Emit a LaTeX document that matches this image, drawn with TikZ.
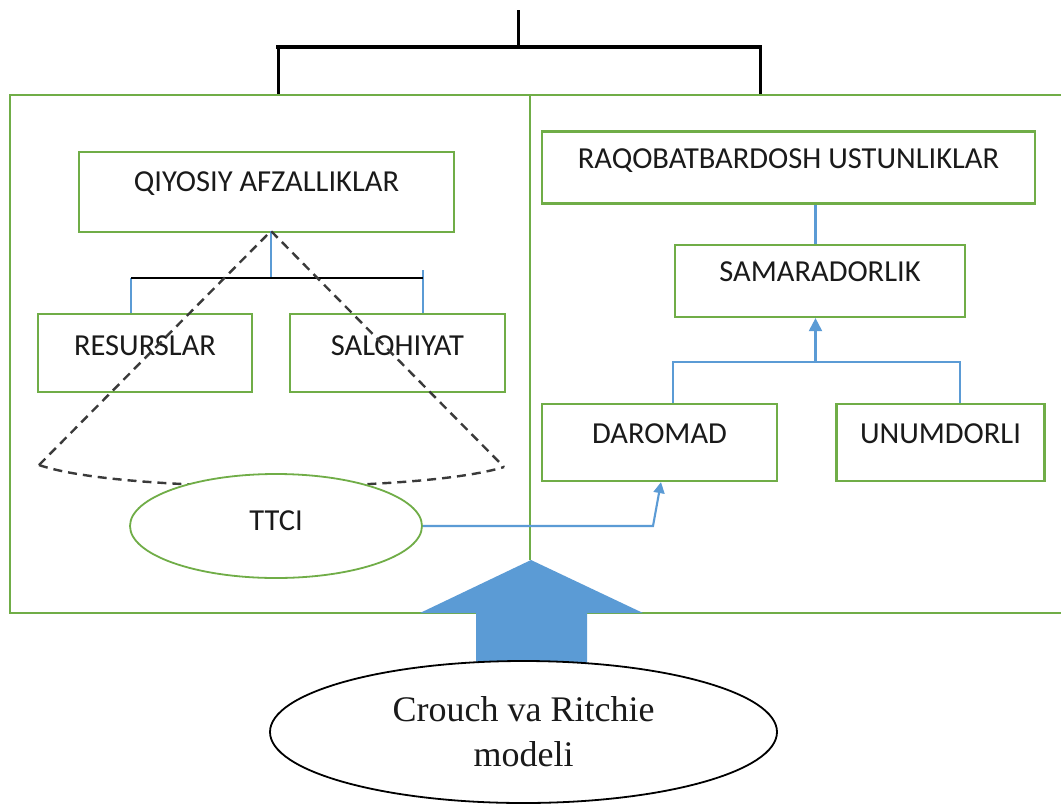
\documentclass[tikz,border=0pt]{standalone}
\usepackage{fontspec}
\setmainfont{Carlito}
\newfontfamily\serifont{Liberation Serif}
\usetikzlibrary{arrows.meta,shapes.geometric}
\definecolor{ogreen}{HTML}{70AD47}
\definecolor{oblue}{HTML}{5B9BD5}
\definecolor{dashgray}{HTML}{3A3A3A}
\definecolor{txtcol}{HTML}{1A1A1A}
\begin{document}
\begin{tikzpicture}[x=1pt,y=-1pt,
  box/.style={draw=ogreen,line width=2.2pt,rectangle,inner sep=0pt},
  lbl/.style={anchor=base,font=\fontsize{30.5}{36}\selectfont,text=txtcol,inner sep=0pt},
  bl/.style={draw=oblue,line width=2.1pt},
  blarrow/.style={bl,-{Triangle[width=13pt,length=13pt]}},
  blk/.style={draw=black,line width=2.4pt},
  conedash/.style={draw=dashgray,line width=2.4pt,dash pattern=on 9pt off 6pt}]
\clip (0,0) rectangle (1061,804);
\fill[white] (0,0) rectangle (1061,804);

% top connector
\coordinate (t0) at (518,10);
\coordinate (t1) at (518,47);
\coordinate (tl) at (278,47);
\coordinate (tr) at (760,47);
\draw[black,line width=3pt] (t0) -- (t1);
\draw[black,line width=3.5pt,line cap=rect] (tl) -- (tr);
\draw[black,line width=3pt] (tl) -- (278,95);
\draw[black,line width=3pt] (tr) -- (760,95);

% big frame
\draw[ogreen,line width=2.2pt] (1070,95) -- (10,95) -- (10,613) -- (1070,613);
\draw[ogreen,line width=2.2pt] (530,95) -- (530,560);

% left boxes
\node[box,minimum width=375pt,minimum height=80pt] (q) at (266.5,192) {};
\node[lbl] (qt) at ([yshift=-41pt]q.north) {QIYOSIY AFZALLIKLAR};
\node[box,minimum width=214pt,minimum height=78pt] (res) at (145,353) {};
\node[lbl] (rest) at ([yshift=-43pt]res.north) {RESURSLAR};
\node[box,minimum width=215pt,minimum height=78pt] (sal) at (397.5,353) {};
\node[lbl] (salt) at ([yshift=-43pt]sal.north) {SALOHIYAT};

% left tree
\coordinate (apex) at (271,231);
\coordinate (bm) at (271,278);
\coordinate (bleft) at (131,278);
\coordinate (bright) at (423,278);
\coordinate (bright2) at (423,270);
\draw[bl] (apex) -- (bm);
\draw[bl] (bleft) -- (bleft |- res.north);
\draw[bl] (bright2) -- (bright2 |- sal.north);
\draw[blk] (bleft) -- (bright);

% cone
\coordinate (cl) at (39,465);
\coordinate (cr) at (504,467);
\draw[conedash] (cl) -- (apex) -- (cr);
\draw[conedash] (cl) .. controls (120,493) and (420,493) .. (cr);

% TTCI
\node[draw=ogreen,line width=1.8pt,fill=white,ellipse,minimum width=292pt,minimum height=104pt,inner sep=0pt] (tt) at (276,526) {};
\node[lbl] (ttt) at (276,530) {TTCI};

% right boxes
\node[box,minimum width=493pt,minimum height=72pt] (r) at (788.5,167.5) {};
\node[lbl] (rt) at ([yshift=-38.5pt]r.north) {RAQOBATBARDOSH USTUNLIKLAR};
\node[box,minimum width=290pt,minimum height=72pt] (s) at (820,281) {};
\node[lbl] (st) at ([yshift=-38pt]s.north) {SAMARADORLIK};
\node[box,minimum width=235pt,minimum height=77pt] (d) at (659.5,442.5) {};
\node[lbl] (dt) at ([yshift=-41pt]d.north) {DAROMAD};
\node[box,minimum width=208pt,minimum height=77pt] (u) at (940.5,442.5) {};
\node[lbl] (ut) at ([yshift=-41pt]u.north) {UNUMDORLI};

% right connectors
\coordinate (mid) at (815.5,362);
\coordinate (dl) at (673,362);
\coordinate (ur) at (960,362);
\draw[bl] (r.south -| mid) -- (s.north -| mid);
\draw[blarrow] (mid) -- (s.south -| mid);
\draw[bl] (dl |- d.north) -- (dl) -- (ur) -- (ur |- u.north);

% TTCI -> DAROMAD
\coordinate (bend) at (653,526);
\draw[bl,-{Triangle[width=11pt,length=11pt]}] (tt.east) -- (bend) -- ([xshift=1.5pt]d.south);

% big blue arrow
\fill[oblue] (531,560) -- (643,613) -- (587,613) -- (587,665) -- (476,665) -- (476,613) -- (420,613) -- cycle;

% Crouch ellipse
\node[draw=black,line width=1.8pt,fill=white,ellipse,minimum width=507pt,minimum height=142pt,inner sep=0pt,align=center,font=\serifont\fontsize{36}{45}\selectfont,text=txtcol] (cr2) at (523.5,732) {Crouch va Ritchie\\modeli};
\end{tikzpicture}
\end{document}
